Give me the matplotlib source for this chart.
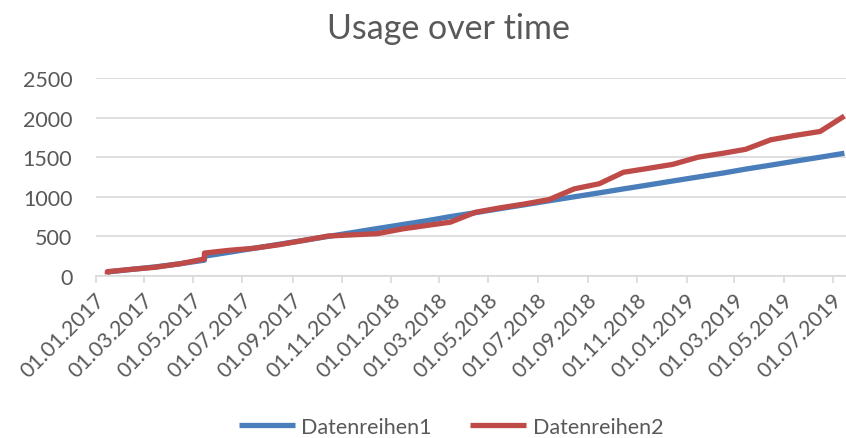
import matplotlib
matplotlib.use("Agg")
import matplotlib.pyplot as plt
import matplotlib.dates as mdates
import matplotlib.transforms as mtransforms
import pandas as pd

plt.rcParams['font.family'] = ['Lato', 'DejaVu Sans']

# series 1 (blue)
dates1 = ["2017-01-15", "2017-02-15", "2017-03-15", "2017-04-15", "2017-05-15", "2017-05-15",
          "2017-06-15", "2017-07-15", "2017-08-15", "2017-09-15", "2017-10-15", "2017-11-15",
          "2017-12-15", "2018-01-15", "2018-02-15", "2018-03-15", "2018-04-15", "2018-05-15",
          "2018-06-15", "2018-07-15", "2018-08-15", "2018-09-15", "2018-10-15", "2018-11-15",
          "2018-12-15", "2019-01-15", "2019-02-15", "2019-03-15", "2019-04-15", "2019-05-15",
          "2019-06-15", "2019-07-15"]
values1 = [50, 85, 115, 155, 200, 250,
           300, 350, 400, 450, 500, 550,
           600, 650, 700, 750, 800, 850,
           900, 950, 1000, 1050, 1100, 1150,
           1200, 1250, 1300, 1350, 1400, 1450,
           1500, 1550]

# series 2 (red)
dates2 = ["2017-01-15", "2017-01-15", "2017-02-15", "2017-03-15", "2017-04-15", "2017-05-15",
          "2017-05-15", "2017-06-15", "2017-07-15", "2017-08-15", "2017-09-15", "2017-10-15",
          "2017-11-15", "2017-12-15", "2018-01-15", "2018-02-15", "2018-03-15", "2018-04-15",
          "2018-05-15", "2018-06-15", "2018-07-15", "2018-08-15", "2018-09-15", "2018-10-15",
          "2018-11-15", "2018-12-15", "2019-01-15", "2019-02-15", "2019-03-15", "2019-04-15",
          "2019-05-15", "2019-06-15", "2019-07-15"]
values2 = [20, 55, 85, 110, 155, 215,
           290, 325, 350, 395, 450, 505,
           520, 535, 595, 640, 680, 805,
           860, 910, 965, 1100, 1165, 1310,
           1360, 1410, 1500, 1550, 1600, 1720,
           1775, 1825, 2020]

x1 = pd.to_datetime(dates1)
x2 = pd.to_datetime(dates2)

text_col = "#595959"
grid_col = "#d9d9d9"

fig = plt.figure(figsize=(8.46, 4.39), dpi=100)
ax = fig.add_axes([0.1135, 0.369, 0.8865, 0.451])

ax.plot(x1, values1, color="#4a7ebb", lw=3.8, solid_capstyle="butt", label="Datenreihen1")
ax.plot(x2, values2, color="#be4b48", lw=3.8, solid_capstyle="butt", label="Datenreihen2")

ax.set_ylim(0, 2500)
ax.set_yticks(range(0, 2501, 500))
ax.set_xlim(pd.Timestamp("2017-01-01"), pd.Timestamp("2019-07-17"))
ax.xaxis.set_major_locator(mdates.MonthLocator(bymonth=[1, 3, 5, 7, 9, 11], bymonthday=1))
ax.xaxis.set_major_formatter(mdates.DateFormatter("%d.%m.%Y"))

ax.grid(axis="y", color=grid_col, lw=1.2)
ax.set_axisbelow(True)
for side in ["top", "right", "left"]:
    ax.spines[side].set_visible(False)
ax.spines["bottom"].set_color(grid_col)
ax.spines["bottom"].set_linewidth(1.2)

ax.tick_params(axis="y", length=0, pad=17, labelsize=15.5, labelcolor=text_col)
ax.tick_params(axis="x", length=5, width=1.2, color=grid_col, pad=4, labelsize=15.5, labelcolor=text_col)

# excel-ish rotated date labels, ending just right of the tick
shift = mtransforms.ScaledTranslation(6 / 100, -8 / 100, fig.dpi_scale_trans)
for lbl in ax.get_xticklabels():
    lbl.set_rotation(45)
    lbl.set_ha("right")
    lbl.set_va("center")
    lbl.set_rotation_mode("anchor")
    lbl.set_transform(lbl.get_transform() + shift)

fig.text(0.53, 0.935, "Usage over time", ha="center", va="center", fontsize=24.5, color=text_col)

fig.legend(loc="center", bbox_to_anchor=(0.533, 0.025), ncol=2, frameon=False,
           fontsize=15.5, labelcolor=text_col, handlelength=2.6, handletextpad=0.3, columnspacing=1.8)

fig.savefig("out.png", dpi=100)
